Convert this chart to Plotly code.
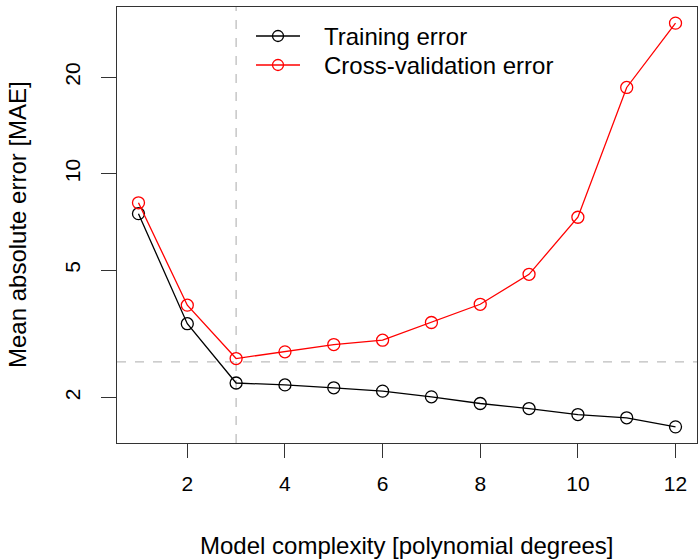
import numpy as np
import plotly.graph_objects as go

degrees = list(range(1, 13))
training_error = [7.50, 3.40, 2.22, 2.19, 2.145, 2.094, 2.01, 1.916, 1.848, 1.77, 1.729, 1.62]
cv_error = [8.11, 3.885, 2.647, 2.778, 2.927, 3.02, 3.43, 3.91, 4.85, 7.31, 18.58, 29.5]
best_degree = 3
threshold = 2.585
x_ticks = [2, 4, 6, 8, 10, 12]
y_ticks = [2, 5, 10, 20]
series_names = ["Training error", "Cross-validation error"]
series_colors = ["black", "#ff0000"]

FONT = "Liberation Sans, Arial, Helvetica, sans-serif"
W, H = 698, 560
L, R, T, B = 117, 1, 7, 117
PW, PH = W - L - R, H - T - B


def px(x):
    return (x - L) / PW


def py(y):
    return (H - B - y) / PH


fig = go.Figure()
for name, vals, col in zip(series_names, [training_error, cv_error], series_colors):
    fig.add_trace(go.Scatter(
        x=degrees, y=vals, mode="lines+markers", name=name, showlegend=False,
        line=dict(color=col, width=1.3),
        marker=dict(symbol="circle-open", size=12, color=col, line=dict(width=1.3)),
    ))

# R-style 4% padding
xmin, xmax = min(degrees), max(degrees)
xpad = 0.04 * (xmax - xmin)
lo = np.log10(min(training_error + cv_error))
hi = np.log10(max(training_error + cv_error))
ypad = 0.04 * (hi - lo)

fig.add_shape(type="line", xref="x", yref="paper", x0=best_degree, x1=best_degree, y0=0, y1=1,
              line=dict(color="#bdbdbd", width=1.3, dash="dash"), layer="below")
fig.add_shape(type="line", xref="paper", yref="y", x0=0, x1=1, y0=threshold, y1=threshold,
              line=dict(color="#bdbdbd", width=1.3, dash="dash"), layer="below")

annotations = [
    dict(text="Model complexity [polynomial degrees]", xref="paper", yref="paper",
         x=0.5, y=0, yshift=-102, showarrow=False, xanchor="center", yanchor="middle",
         font=dict(size=24, family=FONT)),
    dict(text="Mean absolute error [MAE]", xref="paper", yref="paper",
         x=0, y=0.5, xshift=-100, showarrow=False, xanchor="center", yanchor="middle",
         textangle=-90, font=dict(size=24, family=FONT)),
]

# manual legend (R style)
legend_rows = [36, 65]
for name, col, yy in zip(series_names, series_colors, legend_rows):
    fig.add_shape(type="line", xref="paper", yref="paper", x0=px(256), x1=px(300),
                  y0=py(yy), y1=py(yy), line=dict(color=col, width=1.3))
    fig.add_shape(type="circle", xref="paper", yref="paper", xsizemode="pixel", ysizemode="pixel",
                  xanchor=px(278), yanchor=py(yy), x0=-5.5, x1=5.5, y0=-5.5, y1=5.5,
                  line=dict(color=col, width=1.3), fillcolor="rgba(0,0,0,0)")
    annotations.append(dict(text=name, xref="paper", yref="paper", x=px(322), y=py(yy),
                            xanchor="left", yanchor="middle", showarrow=False,
                            font=dict(size=24, family=FONT)))

fig.update_layout(
    width=W, height=H,
    margin=dict(l=L, r=R, t=T, b=B),
    paper_bgcolor="white", plot_bgcolor="white",
    font=dict(family=FONT, color="black", size=21),
    showlegend=False,
    annotations=annotations,
)
fig.update_xaxes(
    range=[xmin - xpad, xmax + xpad], tickvals=x_ticks, ticktext=[str(v) for v in x_ticks],
    showgrid=False, zeroline=False, showline=True, linecolor="#333333", linewidth=1.3,
    mirror=True, ticks="outside", ticklen=14, tickwidth=1.3, tickcolor="#333333",
    tickfont=dict(size=21), ticklabelstandoff=8,
)
fig.update_yaxes(
    type="log", range=[lo - ypad, hi + ypad], tickvals=y_ticks, ticktext=[str(v) for v in y_ticks],
    showgrid=False, zeroline=False, showline=True, linecolor="#333333", linewidth=1.3,
    mirror=True, ticks="outside", ticklen=15, tickwidth=1.3, tickcolor="#333333",
    tickangle=-90, tickfont=dict(size=21), ticklabelstandoff=12,
)

fig.write_html("out.html")
